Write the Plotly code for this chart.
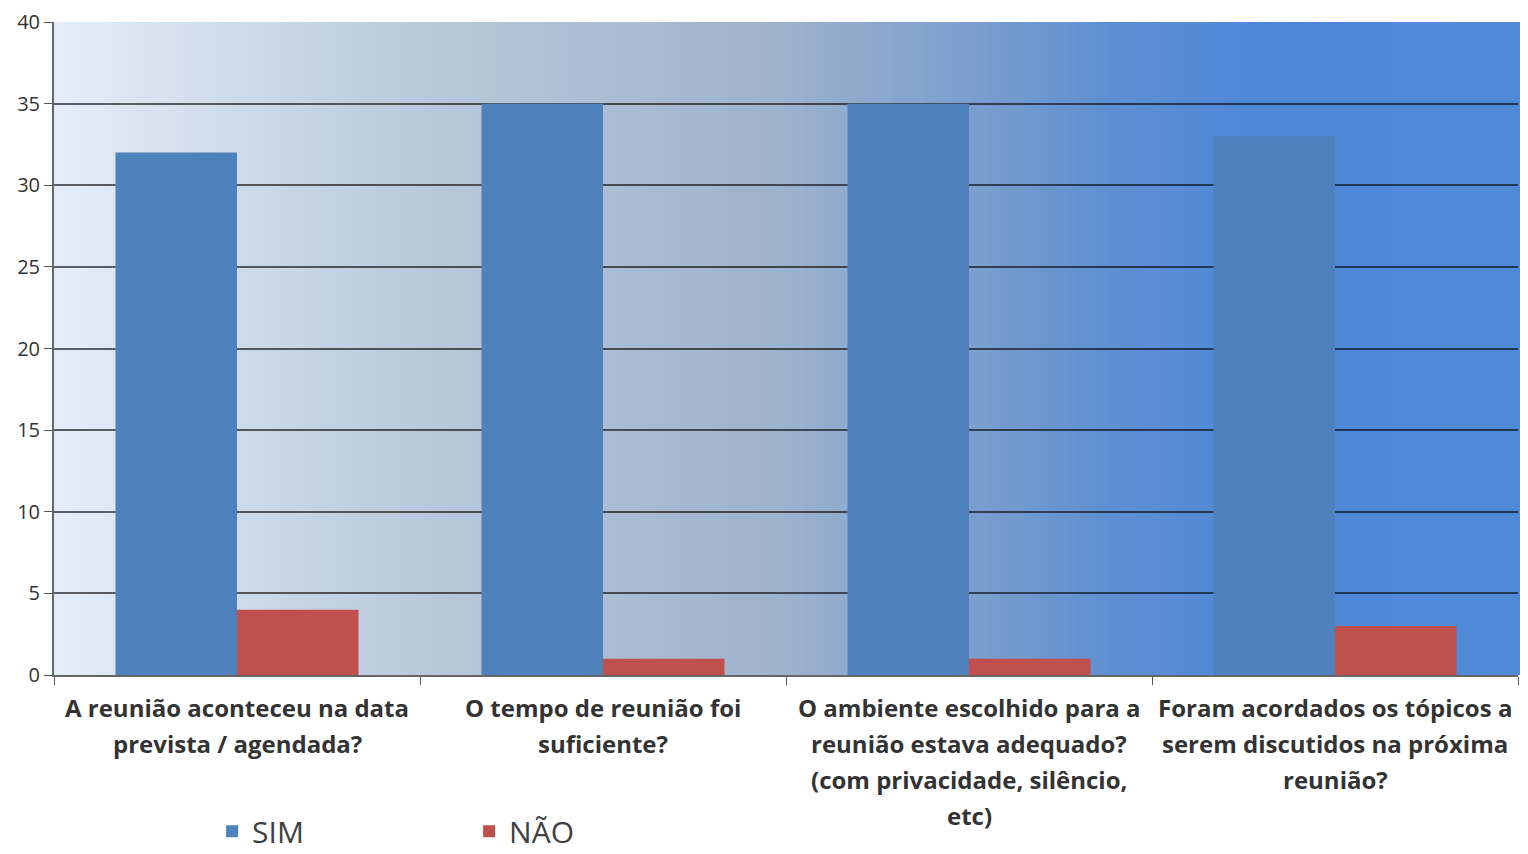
import plotly.graph_objects as go

perguntas = [
    'A reunião aconteceu na data<br>prevista / agendada?',
    'O tempo de reunião foi<br>suficiente?',
    'O ambiente escolhido para a<br>reunião estava adequado?<br>(com privacidade, silêncio,<br>etc)',
    'Foram acordados os tópicos a<br>serem discutidos na próxima<br>reunião?',
]
sim = [32, 35, 35, 33]
nao = [4, 1, 1, 3]

# gradiente do fundo (posição relativa, cor)
grad = [(0.0, (230, 238, 248)), (0.1, (210, 222, 236)), (0.26, (184, 200, 218)),
        (0.49, (159, 179, 204)), (0.62, (125, 160, 206)), (0.72, (95, 143, 210)),
        (0.82, (78, 136, 216)), (1.0, (80, 137, 214))]


def cor_em(t):
    for (t0, c0), (t1, c1) in zip(grad[:-1], grad[1:]):
        if t0 <= t <= t1:
            f = (t - t0) / (t1 - t0)
            return 'rgb(%d,%d,%d)' % tuple(round(a + (b - a) * f) for a, b in zip(c0, c1))
    return 'rgb(%d,%d,%d)' % grad[-1][1]


fig = go.Figure()
fig.add_trace(go.Bar(x=perguntas, y=sim, name='SIM', marker_color='#4f81bd', marker_line_width=0))
fig.add_trace(go.Bar(x=perguntas, y=nao, name='NÃO', marker_color='#c0504d', marker_line_width=0))

n = 150
shapes = []
for i in range(n):
    shapes.append(dict(type='rect', xref='x domain', yref='y domain',
                       x0=i / n, x1=(i + 1) / n + 0.002, y0=0, y1=1,
                       fillcolor=cor_em((i + 0.5) / n), line_width=0, layer='below'))

# rótulos do eixo x, uma linha por anotação (espaçamento igual ao original)
anots = []
for p in perguntas:
    for k, linha in enumerate(p.split('<br>')):
        anots.append(dict(x=p, y=0, xref='x', yref='y', text=linha, showarrow=False,
                          yanchor='middle', yshift=-32 - 36 * k,
                          font=dict(size=24, family='Open Sans', color='#333333', weight='bold')))

fig.update_layout(
    width=1520, height=846,
    margin=dict(l=46, r=10, t=14, b=179, autoexpand=False),
    paper_bgcolor='white', plot_bgcolor='rgba(0,0,0,0)',
    shapes=shapes, annotations=anots,
    barmode='group', bargap=0.336, bargroupgap=0,
    font=dict(family='Open Sans', color='#333333'),
    legend=dict(orientation='h', x=0.108, xanchor='left', yref='container',
                y=0.027, yanchor='middle',
                font=dict(size=30, family='Open Sans', color='#404040'),
                entrywidth=212, traceorder='normal'),
)
fig.update_xaxes(tickson='boundaries', ticks='outside', ticklen=8, tickcolor='#555555',
                 showline=True, linecolor='#666666', linewidth=2,
                 showticklabels=False, automargin=False)
fig.update_yaxes(range=[0, 40], dtick=5, ticks='outside', ticklen=8, tickcolor='#555555',
                 showline=True, linecolor='#666666', linewidth=2,
                 showgrid=True, gridcolor='rgba(0,0,0,0.6)', gridwidth=2,
                 zeroline=False, automargin=False, ticklabeloverflow='allow',
                 tickfont=dict(size=20, family='Open Sans', color='#333333'))

fig.write_html('out.html')
